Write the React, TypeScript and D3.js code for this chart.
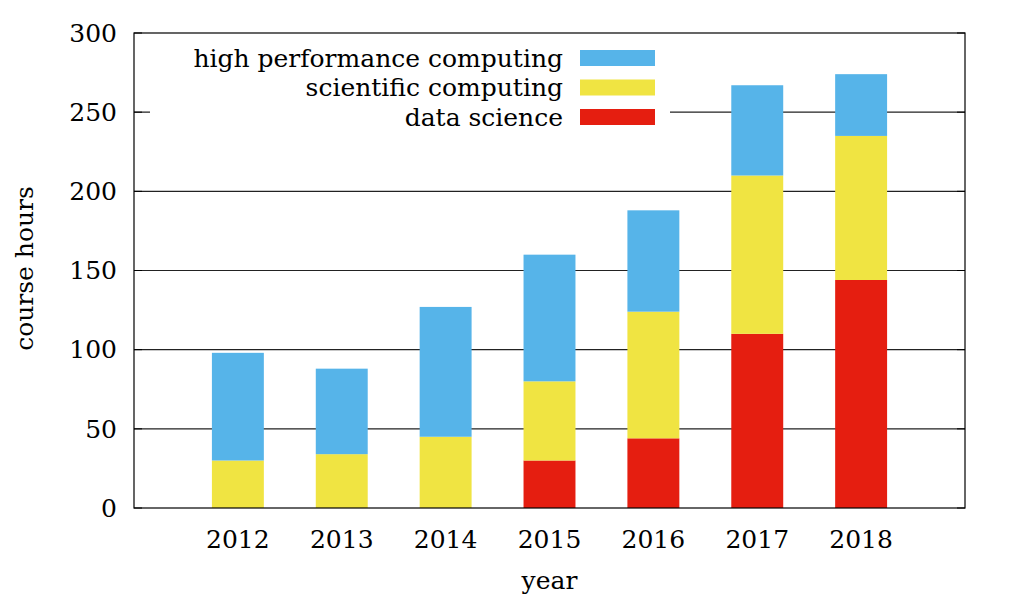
import React from "react";
import * as d3 from "d3";

// Course hours per year, split by subject area
const years = [2012, 2013, 2014, 2015, 2016, 2017, 2018];
const dataScience = [0, 0, 0, 30, 44, 110, 144];
const scientificComputing = [30, 34, 45, 50, 80, 100, 91];
const highPerformanceComputing = [68, 54, 82, 80, 64, 57, 39];
const yTicks = [0, 50, 100, 150, 200, 250, 300];

const seriesKeys = ["ds", "sc", "hpc"] as const;
const seriesNames: Record<string, string> = {
  hpc: "high performance computing",
  sc: "scientific computing",
  ds: "data science",
};
const colors: Record<string, string> = {
  hpc: "#56b4e9",
  sc: "#f0e442",
  ds: "#e51e10",
};

const W = 1013;
const H = 600;
const M = { left: 134, right: 965, top: 33, bottom: 508 };
const FONT = "'DejaVu Serif', serif";
const FS = 25;

export default function App() {
  const rows = years.map((y, i) => ({
    year: y,
    ds: dataScience[i],
    sc: scientificComputing[i],
    hpc: highPerformanceComputing[i],
  }));
  const stacked = d3.stack<any>().keys(seriesKeys as any)(rows);

  const x = d3.scaleLinear().domain([2011, 2019]).range([M.left, M.right]);
  const y = d3.scaleLinear().domain([0, 300]).range([M.bottom, M.top]);
  const barW = x(2011.5) - x(2011);

  const legendOrder = ["hpc", "sc", "ds"];

  return (
    <svg
      width={W}
      height={H}
      style={{ position: "absolute", left: 0, top: 0, background: "#fff" }}
      fontFamily={FONT}
    >
      <rect x={0} y={0} width={W} height={H} fill="#fff" />
      {/* horizontal grid */}
      {yTicks.slice(1, -1).map((t) => (
        <line
          key={t}
          x1={M.left}
          x2={M.right}
          y1={y(t)}
          y2={y(t)}
          stroke="#222"
          strokeWidth={1.1}
        />
      ))}
      {/* stacked bars */}
      {stacked.map((s) => (
        <g key={s.key} fill={colors[s.key]}>
          {s.map((d, i) =>
            d[1] - d[0] > 0 ? (
              <rect
                key={i}
                x={x(years[i]) - barW / 2}
                y={y(d[1])}
                width={barW}
                height={y(d[0]) - y(d[1])}
              />
            ) : null
          )}
        </g>
      ))}
      {/* legend */}
      <rect x={150} y={40} width={520} height={95} fill="#fff" />
      {legendOrder.map((k, i) => (
        <g key={k} transform={`translate(0, ${58 + i * 29.5})`}>
          <text x={563} y={0} dy="0.35em" textAnchor="end" fontSize={FS} fill="#000">
            {seriesNames[k]}
          </text>
          <rect x={580} y={-8} width={75} height={16} fill={colors[k]} />
        </g>
      ))}
      {/* frame */}
      <rect
        x={M.left}
        y={M.top}
        width={M.right - M.left}
        height={M.bottom - M.top}
        fill="none"
        stroke="#000"
        strokeWidth={1.2}
      />
      {/* y ticks */}
      {yTicks.map((t) => (
        <g key={t}>
          <line x1={M.left} x2={M.left + 8} y1={y(t)} y2={y(t)} stroke="#000" />
          <line x1={M.right} x2={M.right - 8} y1={y(t)} y2={y(t)} stroke="#000" />
          <text x={117} y={y(t)} dy="0.35em" textAnchor="end" fontSize={FS} fill="#000">
            {t}
          </text>
        </g>
      ))}
      {/* x tick labels */}
      {years.map((yr) => (
        <text key={yr} x={x(yr)} y={548} textAnchor="middle" fontSize={FS} fill="#000">
          {yr}
        </text>
      ))}
      <text x={(M.left + M.right) / 2} y={589} textAnchor="middle" fontSize={FS} fill="#000">
        year
      </text>
      <text
        transform={`translate(33, ${(M.top + M.bottom) / 2 - 2}) rotate(-90)`}
        textAnchor="middle"
        fontSize={FS}
        fill="#000"
      >
        course hours
      </text>
    </svg>
  );
}
